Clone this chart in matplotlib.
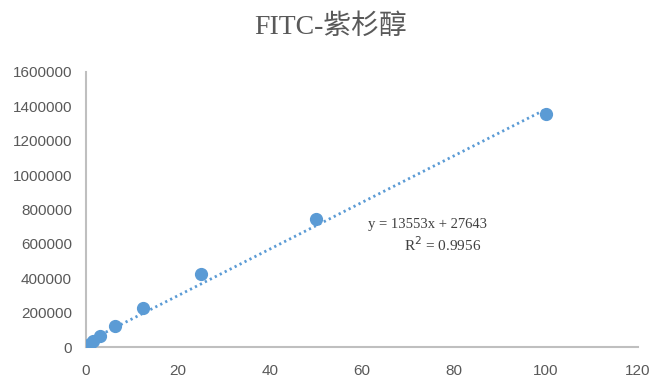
import matplotlib
matplotlib.use("Agg")
import matplotlib.pyplot as plt
import numpy as np

# Data
conc = [0.390625, 0.78125, 1.5625, 3.125, 6.25, 12.5, 25, 50, 100]
signal = [8000, 16000, 33000, 65000, 122000, 228000, 425000, 745000, 1355000]
slope = 13553
intercept = 27643
r2 = 0.9956
title = "FITC-紫杉醇"
xticks = [0, 20, 40, 60, 80, 100, 120]
yticks = [0, 200000, 400000, 600000, 800000, 1000000, 1200000, 1400000, 1600000]

color = "#5B9BD5"
fig = plt.figure(figsize=(6.61, 3.91), dpi=100)
ax = fig.add_axes([0.130, 0.1125, 0.835, 0.7035])

xs = np.array([0, max(conc)])
ax.plot(xs, slope * xs + intercept, linestyle=(0, (0.8, 1.2)), color=color, lw=2.0, zorder=2)
ax.plot(conc, signal, 'o', color=color, markersize=8.5, zorder=3)

ax.set_xlim(0, 120)
ax.set_ylim(0, 1600000)
ax.set_xticks(xticks)
ax.set_yticks(yticks)
ax.set_xticklabels([str(t) for t in xticks])
ax.set_yticklabels([str(t) for t in yticks])
ax.tick_params(length=0, labelsize=11, labelcolor="#595959")
ax.tick_params(axis="y", pad=10)
ax.tick_params(axis="x", pad=12)
for lab in ax.get_xticklabels() + ax.get_yticklabels():
    lab.set_family("Liberation Sans")
for s in ["top", "right"]:
    ax.spines[s].set_visible(False)
for s in ["left", "bottom"]:
    ax.spines[s].set_color("#BFBFBF")
    ax.spines[s].set_linewidth(1.5)

fig.text(0.5, 0.93, title, ha="center", va="center", fontsize=20,
         color="#595959", family=["Liberation Serif", "Noto Sans CJK SC"])

ax.text(87.2, 710000, f"y = {slope}x + {intercept}", ha="right", va="center",
        fontsize=10.5, color="#404040", family="Liberation Serif")
ax.text(77.6, 595000, f"R$^2$ = {r2}", ha="center", va="center",
        fontsize=11, color="#404040", family="Liberation Serif")

fig.savefig("out.png", dpi=100)
